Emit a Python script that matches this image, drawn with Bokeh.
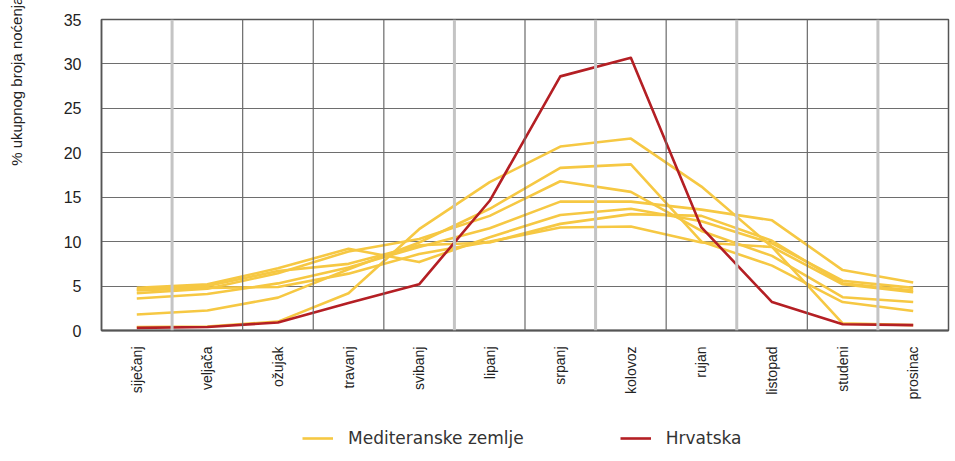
from math import pi
from bokeh.plotting import figure
from bokeh.layouts import column
from bokeh.models import (FixedTicker, Span, Legend, LegendItem, Range1d)
from bokeh.embed import file_html
from bokeh.resources import INLINE

months = ["siječanj", "veljača", "ožujak", "travanj", "svibanj", "lipanj",
          "srpanj", "kolovoz", "rujan", "listopad", "studeni", "prosinac"]

hrvatska = [0.3, 0.4, 0.9, 3.1, 5.2, 14.6, 28.6, 30.7, 11.6, 3.2, 0.7, 0.6]

med_1 = [0.4, 0.45, 1.0, 4.2, 11.4, 16.7, 20.7, 21.6, 16.2, 9.4, 0.8, 0.6]
med_2 = [1.8, 2.25, 3.7, 6.9, 9.9, 13.7, 18.3, 18.7, 10.0, 7.3, 3.2, 2.2]
med_3 = [4.2, 4.7, 6.45, 8.9, 10.3, 12.9, 16.8, 15.6, 11.2, 8.4, 3.75, 3.2]
med_4 = [3.6, 4.1, 5.3, 7.1, 9.4, 11.5, 14.5, 14.5, 13.6, 12.4, 6.8, 5.4]
med_5 = [4.8, 5.2, 7.0, 9.2, 7.7, 10.5, 13.0, 13.7, 12.3, 9.8, 5.6, 4.8]
med_6 = [4.6, 5.0, 6.7, 7.5, 9.6, 9.9, 12.0, 13.1, 12.9, 10.1, 5.3, 4.5]
med_7 = [4.5, 4.8, 4.9, 6.4, 8.6, 10.0, 11.6, 11.7, 9.9, 9.4, 5.2, 4.3]
mediteran = [med_1, med_2, med_3, med_4, med_5, med_6, med_7]

y_ticks = [0, 5, 10, 15, 20, 25, 30, 35]
y_title = "% ukupnog broja noćenja"
legend_labels = ["Mediteranske zemlje", "Hrvatska"]

YELLOW = "#f6c843"
RED = "#b41f24"

n = len(months)
xc = [i + 0.5 for i in range(n)]

p = figure(frame_width=847, frame_height=311, output_backend="svg", toolbar_location=None,
           x_range=Range1d(0, n), y_range=Range1d(0, 35),
           min_border_left=101, min_border_top=19, min_border_right=5,
           min_border_bottom=85)

p.background_fill_color = "white"
p.border_fill_color = "white"
p.outline_line_color = "#555555"
p.outline_line_width = 1.5

# grid
p.xgrid.visible = False
p.ygrid.ticker = FixedTicker(ticks=y_ticks[1:-1])
p.ygrid.grid_line_color = "#6e6e6e"
p.ygrid.grid_line_width = 1.2

light = {1, 5, 7, 9, 11}
for b in range(1, n):
    if b in light:
        p.add_layout(Span(location=b, dimension="height", line_color="#c4c4c4", line_width=3))
    else:
        p.add_layout(Span(location=b, dimension="height", line_color="#6a6a6a", line_width=1.2))

# axes
p.xaxis.ticker = FixedTicker(ticks=xc)
p.xaxis.major_label_overrides = {x: m for x, m in zip(xc, months)}
p.xaxis.major_label_orientation = pi / 2
p.xaxis.major_tick_line_color = None
p.xaxis.minor_tick_line_color = None
p.xaxis.axis_line_color = "#555555"
p.xaxis.axis_line_width = 2
p.xaxis.major_label_text_font = "Liberation Sans"
p.xaxis.major_label_text_font_size = "14px"
p.xaxis.major_label_text_color = "#222222"
p.xaxis.major_label_standoff = 10

p.yaxis.ticker = FixedTicker(ticks=y_ticks)
p.yaxis.major_tick_line_color = None
p.yaxis.minor_tick_line_color = None
p.yaxis.axis_line_color = "#555555"
p.yaxis.axis_line_width = 1.5
p.yaxis.major_label_text_font = "Liberation Sans"
p.yaxis.major_label_text_font_size = "16px"
p.yaxis.major_label_text_color = "#222222"
p.yaxis.major_label_standoff = 14
p.yaxis.axis_label = "\u00a0" * 45 + y_title
p.yaxis.axis_label_text_font = "Liberation Sans"
p.yaxis.axis_label_text_font_size = "15px"
p.yaxis.axis_label_text_font_style = "normal"
p.yaxis.axis_label_text_color = "#222222"
p.yaxis.axis_label_standoff = 36

# lines
p.multi_line(xs=[xc] * len(mediteran), ys=mediteran, line_color=YELLOW,
             line_width=2.6, line_join="round")
p.line(xc, hrvatska, line_color=RED, line_width=2.6, line_join="round")

# legend strip (its renderers lie outside its visible range; only the legend shows)
lg = figure(width=953, height=461 - (19 + 311 + 85), output_backend="svg",
            toolbar_location=None, x_range=Range1d(0, n), y_range=Range1d(-2, -1),
            min_border=0)
lg.axis.visible = False
lg.grid.visible = False
lg.outline_line_color = None
lg.background_fill_color = "white"
lg.border_fill_color = "white"
l_med = lg.multi_line(xs=[xc] * len(mediteran), ys=mediteran, line_color=YELLOW, line_width=2.6)
l_hr = lg.line(xc, hrvatska, line_color=RED, line_width=2.6)
legend = Legend(items=[LegendItem(label=legend_labels[0], renderers=[l_med]),
                       LegendItem(label=legend_labels[1], renderers=[l_hr])],
                orientation="horizontal", location=(201, 13),
                label_text_font="DejaVu Sans", label_text_font_size="17px",
                label_text_color="#333333", glyph_width=31, label_standoff=15,
                spacing=96, border_line_color=None, background_fill_alpha=0,
                margin=0, padding=4)
lg.add_layout(legend)

layout = column(p, lg, spacing=0)
open("out.html", "w").write(file_html(layout, INLINE))
